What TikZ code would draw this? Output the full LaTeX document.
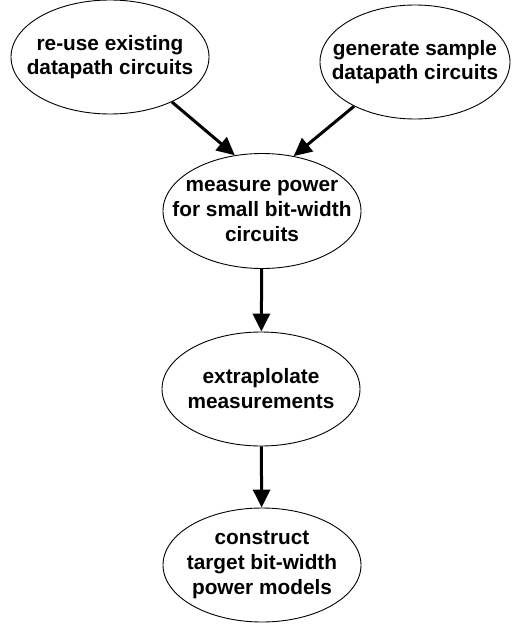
\documentclass[tikz,border=0pt]{standalone}
\usepackage{fontspec}
\setmainfont{Liberation Sans}
\usetikzlibrary{shapes.geometric,arrows.meta}
\begin{document}
\begin{tikzpicture}[x=1pt,y=-1pt,
  stage/.style={ellipse,draw,line width=0.9pt,inner sep=0pt,
    minimum width=198pt,minimum height=114pt},
  caption/.style={align=center,inner sep=0pt,
    font=\fontsize{20.8}{25}\selectfont\bfseries},
  tight/.style={caption,font=\fontsize{20.8}{23.3}\selectfont\bfseries},
  flow/.style={line width=3pt,-{Triangle[length=18pt,width=17pt]}}]
  \useasboundingbox (0,0) rectangle (511,626);
  % sources
  \node[stage] (reuse) at (110,57) {};
  \node[tight] (reuse-t) at (reuse) {re-use existing\\datapath circuits};
  \node[stage,minimum width=190pt] (gen) at (415,62) {};
  \node[tight] (gen-t) at (gen) {generate sample\\datapath circuits};
  % main chain
  \node[stage,minimum height=115pt] (measure) at (262,211) {};
  \node[caption] (measure-t) at (measure) {measure power\\for small bit-width\\circuits};
  \node[stage] (extrap) at (261,389) {};
  \node[caption] (extrap-t) at (extrap) {extraplolate\\measurements};
  \node[stage] (construct) at (262,565) {};
  \node[caption] (construct-t) at (construct) {construct\\target bit-width\\power models};
  % connectors
  \draw[flow] (reuse.-36) -- (measure.116);
  \draw[flow] (gen.-144) -- (measure.60);
  \draw[flow] (measure) -- (extrap);
  \draw[flow] (extrap) -- (construct);
\end{tikzpicture}
\end{document}
